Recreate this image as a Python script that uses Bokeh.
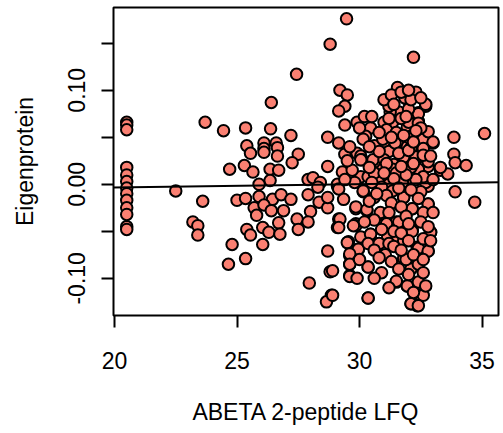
from bokeh.plotting import figure
from bokeh.models import Range1d, FixedTicker, Slope, PrintfTickFormatter
from bokeh.embed import file_html
from bokeh.resources import INLINE

# --- data (x = ABETA 2-peptide LFQ, y = Eigenprotein) ---
abeta_lfq = [
    20.5, 20.5, 20.5, 20.5, 20.5, 20.5, 20.5, 20.5, 20.5, 20.5, 20.5, 20.5, 20.5,
    22.5, 23.6, 23.2, 23.4, 23.4, 24.8, 24.65, 24.7, 25.0, 23.7, 24.45,
    29.47, 28.8, 27.43, 26.4, 29.2, 29.5, 29.4, 29.15, 29.4, 29.9, 25.35, 26.37, 27.2, 28.7, 29.15,
    25.4, 26.1, 26.6, 26.65, 26.1, 25.55, 27.5, 26.65, 29.4, 29.9,
    27.25, 26.1, 25.3, 25.65, 26.35, 26.7, 26.35, 25.9, 27.9, 28.1, 28.7, 29.3, 29.1,
    25.35, 25.9, 26.45, 26.8, 27.2, 25.7, 26.1, 26.4, 26.9, 25.8, 26.7, 26.05, 25.4, 25.55, 26.3,
    26.75, 26.05, 25.35, 27.9, 28.0, 27.45, 27.9, 27.5, 28.35, 28.7, 28.7, 29.35, 29.15, 29.1,
    28.7, 28.8, 27.95, 28.85, 28.65, 29.55, 29.6, 29.6, 29.6, 29.85, 29.85,
    32.2, 31.6, 32.3, 31.9, 32.7, 32.4, 31.6, 31.25, 31.0, 30.2, 30.45, 31.95, 32.4, 30.25, 31.0,
    31.55, 32.15, 32.6, 33.0, 30.6, 31.95, 33.85, 35.1, 33.85, 31.2, 32.35, 30.05,
    33.9, 34.35, 33.3, 33.6, 33.9, 34.7, 30.1, 30.65, 31.8, 32.3, 31.4, 32.5, 32.8, 29.9, 30.6,
    31.2, 32.0, 32.8, 30.15, 30.85, 31.8, 32.8, 32.15, 30.3, 30.85, 31.5, 29.85, 30.45, 32.15,
    32.9, 31.15, 31.55, 30.8, 29.95, 32.35, 32.8, 31.05, 31.8, 32.4, 30.35, 32.1, 31.5, 31.95,
    32.45, 32.5, 30.35, 32.1, 32.35,
    30.5, 30.95, 30.15, 30.05, 30.55, 31.0, 30.05, 30.35, 30.95, 29.8, 30.75, 29.1,
    31.55, 31.85, 32.7, 32.4, 31.2, 32.0, 32.4, 31.35, 32.8, 31.45, 32.1, 33.0, 31.8, 32.3,
    32.8, 32.4, 33.3, 31.35, 31.75, 32.7, 31.2,
    29.15, 30.15, 30.6, 30.9, 29.85, 30.3, 30.85, 29.2, 29.15, 29.75, 30.05, 30.45, 29.5, 29.95,
    30.35, 30.8, 29.6, 29.6, 30.35, 29.6, 28.9, 28.9, 30.35,
    31.35, 31.8, 32.15, 32.8, 31.6, 32.15, 32.9, 31.2, 31.8, 32.4, 32.8, 31.9, 32.4, 31.5,
    31.95, 32.4, 32.6, 32.1, 32.4,
    31.0, 31.3, 32.0, 32.5, 31.7, 31.1, 31.5, 32.0, 32.6, 31.3, 30.8, 31.6, 32.0, 32.6, 31.1,
    31.5, 32.1, 32.6, 32.3, 31.9, 31.4, 30.6, 31.0, 32.5, 32.1, 31.6, 31.1, 30.4, 31.3, 31.7,
    32.4, 32.6, 31.9, 31.2, 30.6, 31.1, 32.0, 32.5, 32.8, 30.9, 31.4, 31.7, 32.6, 32.0, 31.4,
    30.6, 31.7, 32.2, 32.6, 31.3, 30.8, 31.6, 32.0, 32.6, 30.9, 31.2, 32.2, 32.7, 30.7, 30.4,
    30.8, 30.5, 29.7, 29.6, 30.0, 29.5, 30.2, 30.0, 30.6, 29.9, 32.9, 33.0, 33.0, 32.9, 32.2,
    31.8, 31.4, 32.1, 31.7, 32.5, 32.0, 31.9, 32.3, 31.2, 32.2, 31.7, 30.4, 29.4, 28.4, 28.3,
]
eigenprotein = [
    0.066, 0.063, 0.058, 0.018, 0.010, 0.003, -0.004, -0.010, -0.017, -0.025, -0.032, -0.045, -0.048,
    -0.007, -0.018, -0.040, -0.044, -0.054, -0.064, -0.085, 0.016, -0.017, 0.066, 0.057,
    0.176, 0.149, 0.117, 0.087, 0.100, 0.095, 0.083, 0.078, 0.063, 0.066, 0.060, 0.059, 0.052, 0.050, 0.044,
    0.041, 0.044, 0.044, 0.039, 0.038, 0.033, 0.032, 0.030, 0.032, 0.033,
    0.023, 0.034, 0.020, 0.013, 0.016, 0.015, 0.004, 0.000, 0.005, 0.007, 0.019, 0.013, -0.002,
    -0.015, -0.013, -0.016, -0.011, -0.016, -0.025, -0.022, -0.028, -0.028, -0.033, -0.041, -0.046, -0.048, -0.054, -0.051,
    -0.053, -0.064, -0.079, -0.011, -0.029, -0.037, -0.040, -0.048, -0.019, -0.025, -0.014, -0.016, -0.037, -0.046,
    -0.071, -0.093, -0.105, -0.118, -0.125, -0.061, -0.076, -0.085, -0.097, -0.042, -0.026,
    0.135, 0.101, 0.098, 0.091, 0.083, 0.076, 0.077, 0.077, 0.066, 0.072, 0.060, 0.061, 0.067, 0.051, 0.045,
    0.044, 0.052, 0.048, 0.044, 0.041, 0.040, 0.050, 0.054, 0.032, 0.035, 0.030, 0.030,
    0.023, 0.020, 0.015, 0.011, -0.008, -0.019, 0.026, 0.024, 0.026, 0.026, 0.021, 0.013, 0.019, 0.003, 0.003,
    0.003, 0.000, -0.002, -0.008, -0.007, -0.014, -0.021, -0.026, -0.028, -0.032, -0.040, -0.044, -0.053, -0.049,
    -0.051, -0.056, -0.058, -0.063, -0.069, -0.067, -0.071, -0.075, -0.079, -0.085, -0.088, -0.090, -0.104, -0.108,
    -0.106, -0.118, -0.121, -0.127, -0.129,
    0.072, 0.048, 0.048, 0.026, 0.026, 0.026, 0.008, 0.008, 0.016, 0.002, 0.003, 0.000,
    0.103, 0.092, 0.085, 0.075, 0.083, 0.066, 0.065, 0.066, 0.056, 0.044, 0.039, 0.045, 0.029, 0.029,
    0.024, 0.016, 0.018, 0.016, 0.002, 0.002, 0.000,
    -0.005, -0.007, -0.014, -0.003, -0.024, -0.027, -0.030, -0.037, -0.046, -0.044, -0.056, -0.053, -0.062, -0.069,
    -0.063, -0.063, -0.074, -0.085, -0.088, -0.098, -0.092, -0.118, -0.121,
    -0.007, -0.014, -0.026, -0.021, -0.040, -0.050, -0.051, -0.063, -0.060, -0.068, -0.071, -0.080, -0.085, -0.103,
    -0.108, -0.104, -0.118, -0.127, -0.129,
    0.090, 0.095, 0.080, 0.060, 0.070, 0.058, 0.055, 0.050, 0.038, 0.050, 0.035, 0.033, 0.036, 0.031, 0.022,
    0.012, 0.018, 0.008, 0.005, 0.010, 0.006, 0.012, 0.012, -0.008, -0.006, -0.004, -0.012, -0.018, -0.020, -0.024,
    -0.015, -0.030, -0.034, -0.030, -0.038, -0.042, -0.042, -0.040, -0.045, -0.048, -0.050, -0.052, -0.058, -0.060, -0.066,
    -0.070, -0.070, -0.075, -0.080, -0.082, -0.078, -0.090, -0.096, -0.094, -0.094, -0.110, -0.115, -0.108, -0.010, 0.040,
    0.055, 0.002, 0.015, 0.040, 0.060, 0.025, -0.040, -0.080, -0.100, -0.100, -0.060, -0.030, 0.005, 0.030, 0.045,
    0.052, 0.085, 0.090, 0.098, 0.092, 0.100, 0.072, 0.057, 0.070, 0.022, 0.019, 0.018, 0.005, 0.002, -0.003,
]

x_ticks = [20, 25, 30, 35]
y_ticks_labelled = [-0.10, 0.00, 0.10]
y_ticks_unlabelled = [-0.05, 0.05, 0.15]

fit_slope = 0.00036
fit_intercept = -0.0107

x_label = "ABETA 2-peptide LFQ"
y_label = "Eigenprotein"

FONT = "Liberation Sans"

p = figure(
    width=503, height=427,
    x_range=Range1d(19.96, 35.67), y_range=Range1d(-0.1395, 0.188),
    output_backend="svg", toolbar_location=None,
    min_border_left=113, min_border_right=5, min_border_top=7, min_border_bottom=110,
)
p.background_fill_color = "white"
p.border_fill_color = "white"
p.outline_line_color = "black"
p.outline_line_width = 2
p.xgrid.visible = False
p.ygrid.visible = False

p.scatter(abeta_lfq, eigenprotein, size=11.5, fill_color="#FA8072",
          line_color="black", line_width=2)

p.add_layout(Slope(gradient=fit_slope, y_intercept=fit_intercept,
                   line_color="black", line_width=2))

for ax in (p.xaxis[0], p.yaxis[0]):
    ax.axis_line_color = None
    ax.major_tick_line_color = "black"
    ax.major_tick_line_width = 2
    ax.major_tick_out = 12
    ax.major_tick_in = 0
    ax.major_label_text_font = FONT
    ax.major_label_text_font_size = "23px"
    ax.major_label_text_color = "black"
    ax.axis_label_text_font = FONT
    ax.axis_label_text_font_size = "23px"
    ax.axis_label_text_font_style = "normal"
    ax.axis_label_text_color = "black"

p.xaxis.ticker = FixedTicker(ticks=x_ticks)
p.xaxis.minor_tick_line_color = None
p.xaxis.major_label_standoff = 24
p.xaxis.axis_label = x_label
p.xaxis.axis_label_standoff = 27

p.yaxis.ticker = FixedTicker(ticks=y_ticks_labelled, minor_ticks=y_ticks_unlabelled)
p.yaxis.formatter = PrintfTickFormatter(format="%.2f")
p.yaxis.minor_tick_line_color = "black"
p.yaxis.minor_tick_line_width = 2
p.yaxis.minor_tick_out = 12
p.yaxis.minor_tick_in = 0
p.yaxis.major_label_orientation = "vertical"
p.yaxis.major_label_standoff = 16
p.yaxis.axis_label = y_label
p.yaxis.axis_label_standoff = 28

open("out.html", "w").write(file_html(p, INLINE))
